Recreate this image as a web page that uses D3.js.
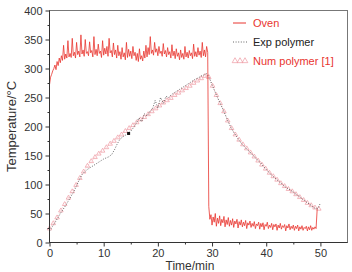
<!DOCTYPE html>
<html>
<head>
<meta charset="utf-8">
<script src="https://cdn.jsdelivr.net/npm/d3@7"></script>
<style>
  body { margin: 0; background: #fff; }
  svg { display: block; font-family: "Liberation Sans", Arial, sans-serif; }
</style>
</head>
<body>
<div id="chart"></div>
<script>
// --- Data ---
const xTicks = [0, 10, 20, 30, 40, 50];
const xMinorTicks = [5, 15, 25, 35, 45];
const yTicks = [0, 50, 100, 150, 200, 250, 300, 350, 400];
const yMinorTicks = [25, 75, 125, 175, 225, 275, 325, 375];

// oven thermocouple, sampled every 0.2 min from t = 0
const ovenStart = 0;
const ovenStep = 0.2;
const ovenTemp = [
  272, 285, 290, 296, 300, 306, 298, 312, 305, 318, 310, 322, 314, 340, 316, 325, 318, 348, 320, 326,
  319, 352, 322, 328, 318, 345, 324, 330, 320, 358, 325, 332, 321, 350, 326, 329, 322, 346, 327, 331,
  320, 355, 324, 333, 322, 342, 326, 330, 319, 348, 323, 335, 325, 338, 321, 352, 327, 331, 320, 344,
  324, 332, 318, 340, 322, 329, 316, 336, 320, 327, 315, 345, 319, 333, 321, 330, 317, 338, 322, 328,
  314, 326, 312, 334, 316, 322, 313, 330, 318, 340, 320, 336, 324, 355, 326, 332, 323, 345, 328, 334,
  322, 338, 326, 330, 321, 343, 325, 331, 320, 336, 324, 329, 318, 341, 322, 330, 317, 334, 321, 327,
  315, 332, 319, 326, 316, 338, 320, 328, 318, 331, 322, 327, 317, 342, 321, 329, 320, 336, 323, 330,
  319, 345, 322, 332, 320, 338, 328,
  62, 40, 48, 30, 44, 35, 50, 28, 42, 33, 46, 29, 40, 34, 45, 27, 39, 31, 43, 28,
  38, 30, 41, 26, 37, 32, 40, 25, 36, 30, 39, 27, 35, 29, 38, 24, 34, 30, 37, 26,
  33, 28, 36, 24, 32, 29, 35, 23, 33, 27, 34, 22, 31, 28, 35, 24, 30, 26, 33, 22,
  31, 27, 32, 21, 30, 25, 33, 23, 29, 26, 31, 20, 29, 25, 32, 22, 28, 24, 30, 21,
  28, 24, 30, 20, 27, 23, 29, 21, 26, 24, 28, 20, 27, 22, 29, 21, 26, 23, 27, 24,
  57
];

// experimental polymer temperature, every 0.5 min
const expStart = 0;
const expStep = 0.5;
const expTemp = [
  20, 27, 34, 42, 50, 57, 64, 72, 80, 88,
  98, 108, 117, 122, 126, 129, 132, 135, 138, 141,
  144, 146, 148, 152, 160, 170, 178, 182, 185, 188,
  192, 198, 205, 215, 208, 222, 218, 226, 230, 245,
  232, 250, 240, 252, 250, 255, 258, 261, 264, 267,
  270, 273, 276, 279, 282, 284, 287, 289, 291, 284,
  272, 261, 250, 240, 230, 219, 208, 198, 190, 183,
  176, 170, 165, 160, 156, 151, 146, 141, 137, 131,
  126, 121, 116, 112, 108, 104, 100, 96, 93, 90,
  87, 83, 80, 76, 73, 69, 66, 62, 59, 58, 68
];
const expMark = [[14.6, 188]];

// numerical polymer temperature [1], every 0.7 min
const numStart = 0;
const numStep = 0.7;
const numTemp = [
  24, 33, 43, 55, 66, 77, 88, 99, 111, 122,
  132, 140, 147, 153, 158, 164, 170, 175, 181, 186,
  192, 197, 202, 207, 212, 216, 221, 226, 231, 236,
  241, 245, 249, 254, 258, 262, 266, 270, 275, 279,
  283, 287, 285, 270, 254, 240, 226, 210, 197, 186,
  177, 169, 162, 155, 148, 141, 134, 127, 120, 114,
  108, 102, 97, 92, 88, 83, 78, 73, 68, 64,
  60, 58
];

const legendLabels = ["Oven", "Exp polymer", "Num polymer [1]"];

// --- Setup ---
const width = 352;
const height = 272;
const margin = { top: 10.5, right: 4.5, bottom: 29.5, left: 49.5 };

const ovenColor = "#e8352f";
const expColor = "#555";
const numColor = "#ee9aa2";

const svg = d3.select("#chart").append("svg")
  .attr("width", width)
  .attr("height", height);

const x = d3.scaleLinear().domain([0, 55]).range([margin.left, width - margin.right]);
const y = d3.scaleLinear().domain([0, 400]).range([height - margin.bottom, margin.top]);

const toSeries = (vals, start, step) => vals.map((v, i) => [start + i * step, v]);
const oven = toSeries(ovenTemp, ovenStart, ovenStep);
const exp = toSeries(expTemp, expStart, expStep);
const num = toSeries(numTemp, numStart, numStep);

const line = d3.line().x(d => x(d[0])).y(d => y(d[1]));

// frame
svg.append("rect")
  .attr("x", x(0)).attr("y", y(400))
  .attr("width", x(55) - x(0)).attr("height", y(0) - y(400))
  .attr("fill", "none").attr("stroke", "#777").attr("stroke-width", 1);

// --- Series ---
svg.append("path")
  .datum(num)
  .attr("fill", "none")
  .attr("stroke", numColor)
  .attr("stroke-width", 0.6)
  .attr("stroke-dasharray", "1,2")
  .attr("d", line);

svg.append("g").selectAll("path")
  .data(num)
  .join("path")
  .attr("transform", d => `translate(${x(d[0])},${y(d[1])})`)
  .attr("d", d3.symbol(d3.symbolTriangle).size(9))
  .attr("fill", "none")
  .attr("stroke", numColor)
  .attr("stroke-width", 0.7);

svg.append("path")
  .datum(exp)
  .attr("fill", "none")
  .attr("stroke", expColor)
  .attr("stroke-width", 0.9)
  .attr("stroke-dasharray", "1,1.6")
  .attr("d", line);

svg.append("g").selectAll("rect")
  .data(expMark)
  .join("rect")
  .attr("x", d => x(d[0]) - 1.5)
  .attr("y", d => y(d[1]) - 1.5)
  .attr("width", 3).attr("height", 3)
  .attr("fill", "#111");

svg.append("path")
  .datum(oven)
  .attr("fill", "none")
  .attr("stroke", ovenColor)
  .attr("stroke-width", 0.8)
  .attr("d", line);

// --- Axes ---
const axisColor = "#333";

const xAxis = svg.append("g")
  .attr("transform", `translate(0,${y(0)})`)
  .call(d3.axisBottom(x).tickValues(xTicks).tickSize(4).tickPadding(3));
svg.append("g")
  .attr("transform", `translate(0,${y(0)})`)
  .call(d3.axisBottom(x).tickValues(xMinorTicks).tickSize(2).tickFormat(""))
  .select(".domain").remove();

const yAxis = svg.append("g")
  .attr("transform", `translate(${x(0)},0)`)
  .call(d3.axisLeft(y).tickValues(yTicks).tickSize(4).tickPadding(3));
svg.append("g")
  .attr("transform", `translate(${x(0)},0)`)
  .call(d3.axisLeft(y).tickValues(yMinorTicks).tickSize(2).tickFormat(""))
  .select(".domain").remove();

svg.selectAll(".domain").attr("stroke", axisColor).attr("d", null);
xAxis.select(".domain").attr("d", `M${x(0)},0H${x(55)}`);
yAxis.select(".domain").attr("d", `M0,${y(0)}V${y(400)}`);
svg.selectAll(".tick line").attr("stroke", axisColor);
svg.selectAll(".tick text")
  .attr("fill", "#333")
  .style("font-size", "11px")
  .style("font-family", "'Liberation Sans', Arial, sans-serif");

// axis titles
svg.append("text")
  .attr("transform", `translate(16,${(y(0) + y(400)) / 2}) rotate(-90)`)
  .attr("text-anchor", "middle")
  .attr("fill", "#333")
  .style("font-size", "13px")
  .text("Temperature/°C");

svg.append("text")
  .attr("x", 190)
  .attr("y", 269.5)
  .attr("text-anchor", "middle")
  .attr("fill", "#333")
  .style("font-size", "12px")
  .text("Time/min");

// --- Legend ---
const legend = svg.append("g").attr("transform", "translate(233,23)");
const rowGap = 19;

legend.append("line")
  .attr("x1", 0).attr("x2", 13).attr("y1", 0).attr("y2", 0)
  .attr("stroke", ovenColor).attr("stroke-width", 1);
legend.append("line")
  .attr("x1", 0).attr("x2", 14).attr("y1", rowGap).attr("y2", rowGap)
  .attr("stroke", expColor).attr("stroke-width", 0.9).attr("stroke-dasharray", "1,1.6");
legend.selectAll("path.sym")
  .data([2, 7, 12])
  .join("path")
  .attr("class", "sym")
  .attr("transform", d => `translate(${d},${rowGap * 2})`)
  .attr("d", d3.symbol(d3.symbolTriangle).size(14))
  .attr("fill", "none")
  .attr("stroke", numColor)
  .attr("stroke-width", 0.7);

legend.selectAll("text")
  .data(legendLabels)
  .join("text")
  .attr("x", 20)
  .attr("y", (d, i) => i * rowGap + 4)
  .attr("fill", (d, i) => i === 1 ? "#222" : ovenColor)
  .style("font-size", "11px")
  .text(d => d);
</script>
</body>
</html>
